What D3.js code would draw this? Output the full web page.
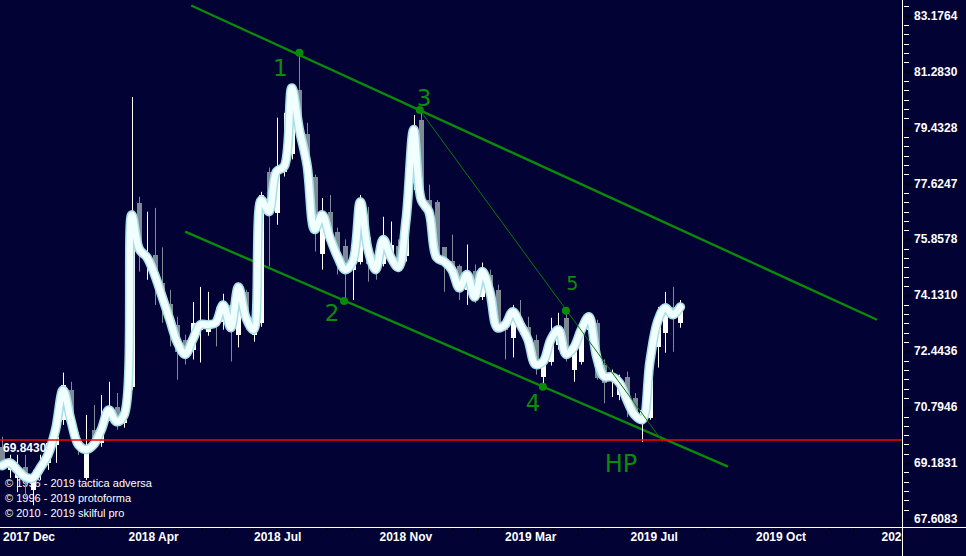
<!DOCTYPE html>
<html><head><meta charset="utf-8">
<script src="https://cdn.jsdelivr.net/npm/d3@7"></script>
<style>html,body{margin:0;padding:0;background:#020235;} svg{display:block}</style>
</head><body>
<svg id="c" width="966" height="556"></svg>
<script>
// ---- data (weekly bars) ----
const openP = [69.65,68.99,68.76,69.08,68.42,68.90,69.19,69.71,70.43,71.30,
69.91,68.76,70.14,69.77,70.51,70.80,70.34,71.39,77.01,75.14,
75.36,74.52,73.87,73.24,72.79,72.49,73.09,73.03,73.39,73.33,
73.84,72.94,74.24,72.94,73.30,78.01,76.70,78.01,78.56,80.68,
79.21,77.85,75.39,76.73,76.10,75.64,74.92,75.17,75.95,75.33,
75.08,75.30,75.64,75.33,77.81,79.69,77.10,77.04,75.61,75.20,
75.02,74.30,74.89,74.08,74.77,74.30,73.33,72.85,73.45,73.18,
72.79,71.69,72.11,72.64,73.45,71.90,72.11,73.09,73.30,72.05,
71.60,71.15,71.69,71.06,70.43,70.48,72.58,73.00,73.78,73.30];
const highP = [69.94,69.42,69.42,69.42,68.99,69.42,69.85,70.23,71.81,71.54,
70.08,70.57,70.86,71.15,71.54,71.21,71.51,80.44,77.20,76.73,
76.85,75.61,74.30,73.48,72.94,73.93,74.39,74.24,73.78,74.18,
73.99,74.52,74.30,73.54,77.36,78.14,79.76,79.92,80.74,81.95,
79.59,77.91,77.16,77.26,76.23,75.86,75.39,77.26,76.88,75.55,
76.57,76.42,75.86,76.63,79.85,80.02,77.59,77.10,75.61,76.01,
75.08,75.70,75.08,75.14,74.92,74.46,73.54,73.84,73.99,73.48,
72.94,72.35,73.45,73.60,73.66,72.64,73.24,73.60,73.39,72.20,
71.90,71.75,71.84,71.21,70.86,72.79,73.78,74.24,74.39,73.99];
const lowP = [68.99,68.76,68.36,68.22,67.99,68.70,68.99,69.19,70.28,70.00,
69.42,68.70,69.71,69.65,70.43,70.14,70.20,71.30,74.86,74.61,
73.84,73.30,72.59,71.60,72.05,72.20,72.11,72.91,72.59,73.09,
72.14,72.56,73.09,72.73,73.18,75.02,76.32,77.85,78.40,79.04,
77.75,75.48,74.92,75.70,74.77,73.99,73.99,75.08,74.55,74.61,
75.02,75.08,74.99,75.17,77.42,76.94,76.54,75.17,74.24,74.61,
73.99,73.84,73.90,73.99,73.99,73.09,72.20,72.26,72.94,72.64,
71.75,71.39,72.02,72.49,72.14,71.54,72.05,72.94,71.60,70.91,
71.09,71.00,70.51,70.43,69.79,70.43,71.96,72.40,72.43,73.15];
const closeP = [69.22,69.22,69.05,68.65,68.76,69.19,69.77,69.94,71.45,70.14,
69.71,69.57,69.77,70.14,70.80,70.28,70.66,76.63,75.45,75.33,
74.52,73.99,73.24,72.41,72.35,73.30,73.33,73.24,73.24,73.84,
73.09,74.39,73.30,73.24,77.26,76.79,78.07,78.23,80.68,79.21,
78.23,76.07,76.70,75.86,75.17,74.92,75.14,77.01,75.08,74.83,
75.95,75.70,75.17,76.48,79.30,77.10,76.73,75.33,75.14,74.77,
74.39,74.86,74.05,74.92,74.14,73.18,73.09,73.69,73.09,72.79,
71.99,72.14,72.94,73.09,72.26,72.49,73.09,73.45,71.66,71.51,
71.69,71.60,71.09,70.51,70.71,72.58,73.30,73.69,73.54,73.90];
const smoothP = [69.11,69.19,68.99,68.79,68.76,69.05,69.42,70.14,71.30,70.43,
69.71,69.57,69.71,70.14,70.71,70.37,70.57,76.63,75.55,75.30,
74.77,74.08,73.39,72.70,72.35,72.79,73.24,73.24,73.30,73.84,
73.15,74.39,73.45,73.09,77.10,76.73,78.01,78.17,80.74,79.37,
78.23,76.17,76.63,75.92,75.33,74.92,75.17,77.04,75.55,74.92,
75.86,75.30,74.99,76.48,79.37,77.10,76.73,75.30,75.17,74.92,
74.36,74.77,74.08,74.86,74.24,73.15,73.24,73.63,73.24,72.79,
72.05,72.14,72.79,73.09,72.35,72.55,73.09,73.48,72.29,71.69,
71.69,71.51,71.00,70.57,70.43,72.14,73.33,73.75,73.54,73.78];

const yTickLabels = ["67.6083","69.1831","70.7946","72.4436","74.1310","75.8578","77.6247","79.4328","81.2830","83.1764"];
const xTickLabels = ["2017 Dec","2018 Apr","2018 Jul","2018 Nov","2019 Mar","2019 Jul","2019 Oct","2020 Jan"];
const refLevel = 69.8430;
const copyrights = ["\u00a9 1996 - 2019 tactica adversa","\u00a9 1996 - 2019 protoforma","\u00a9 2010 - 2019 skilful pro"];

// annotations (bar index, price)
const upperChannel = [[24.8, 83.53],[114.8, 73.39]];
const lowerChannel = [[24.0, 76.10],[95.25, 69.08]];
const thinLine = [[54.8, 80.01],[86.7, 69.79]];
const pivots = [[39.0, 81.92],[44.86, 73.96],[54.8, 80.01],[70.95, 71.39],[73.98, 73.66]];
const handLabels = [["1",36.5,81.42,23],["3",55.35,80.41,23],["5",74.8,74.52,19],["2",43.3,73.60,23],["4",69.66,70.91,23],["HP",81.2,69.16,24]];

// ---- layout ----
const W = 966, H = 556, plotR = 902, plotB = 527;
const svg = d3.select("#c");
svg.append("rect").attr("width", W).attr("height", H).attr("fill", "#020235");

const x = d3.scaleLinear().domain([-0.29, 118.08]).range([0, plotR]);
const y = d3.scaleLog().domain([67.386, 83.72]).range([plotB, 0]);

svg.append("clipPath").attr("id","clip").append("rect").attr("x",0).attr("y",0).attr("width",plotR).attr("height",plotB);
const g = svg.append("g").attr("clip-path","url(#clip)");

// copyright texts (under candles)
g.selectAll("text.copy").data(copyrights).join("text")
  .attr("x", 5).attr("y", (d,i) => 487 + i*15)
  .attr("fill", "#ffffff").attr("font-family", "'Liberation Sans', Arial, sans-serif")
  .attr("font-size", 11).text(d => d);

const bars = d3.range(openP.length).map(i => ({i, o: openP[i], h: highP[i], l: lowP[i], c: closeP[i]}));
const upCol = "#ffffff", dnCol = "#7f8a97";

// channel lines (under the curve)
const line2 = d3.line().x(d => x(d[0])).y(d => y(d[1]));
[upperChannel, lowerChannel].forEach(seg => {
  g.append("path").attr("d", line2(seg)).attr("stroke", "#0a8a0a").attr("stroke-width", 2.4).attr("fill","none");
});

// wicks
g.selectAll("line.wick").data(bars).join("line")
  .attr("x1", d => Math.round(x(d.i)) + 0.5).attr("x2", d => Math.round(x(d.i)) + 0.5)
  .attr("y1", d => y(d.h)).attr("y2", d => y(d.l))
  .attr("stroke", d => d.c >= d.o ? upCol : dnCol).attr("stroke-width", 1);
// bodies
g.selectAll("rect.body").data(bars).join("rect")
  .attr("x", d => Math.round(x(d.i)) - 2).attr("width", 5)
  .attr("y", d => y(Math.max(d.o, d.c)))
  .attr("height", d => Math.max(1, y(Math.min(d.o, d.c)) - y(Math.max(d.o, d.c))))
  .attr("fill", d => d.c >= d.o ? upCol : dnCol)
  .attr("shape-rendering", "crispEdges");

// smooth curve
const sm = smoothP.map((v,i) => [i, v]);
const curve = d3.line().x(d => x(d[0])).y(d => y(d[1])).curve(d3.curveCatmullRom.alpha(0.5));
g.append("path").attr("d", curve(sm)).attr("fill","none").attr("stroke","#a8dfe6").attr("stroke-width",9.5).attr("stroke-linejoin","round").attr("stroke-linecap","round");
g.append("path").attr("d", curve(sm)).attr("fill","none").attr("stroke","#f2ffff").attr("stroke-width",6.5).attr("stroke-linejoin","round").attr("stroke-linecap","round");

// thin line and pivots
g.append("path").attr("d", line2(thinLine)).attr("stroke", "#0a7a0a").attr("stroke-width", 1).attr("fill","none");
g.selectAll("circle.pv").data(pivots).join("circle")
  .attr("cx", d => x(d[0])).attr("cy", d => y(d[1])).attr("r", 4).attr("fill", "#0a8a0a");
g.selectAll("text.hand").data(handLabels).join("text")
  .attr("x", d => x(d[1])).attr("y", d => y(d[2]))
  .attr("text-anchor","middle").attr("dominant-baseline","central")
  .attr("font-family","'DejaVu Sans', sans-serif").attr("font-weight", "normal")
  .attr("font-size", d => d[3]).attr("fill","#0c8c0c").text(d => d[0]);

// reference line
g.append("line").attr("x1",0).attr("x2",plotR).attr("y1", y(refLevel)).attr("y2", y(refLevel))
  .attr("stroke","#ff0000").attr("stroke-width",1.5);
g.append("text").attr("x",3).attr("y", y(refLevel) + 12).attr("fill","#ffffff")
  .attr("font-family","'Liberation Sans', Arial, sans-serif").attr("font-weight","bold").attr("font-size",12)
  .text(refLevel.toFixed(4));

// ---- axes ----
svg.append("line").attr("x1",0).attr("x2",W).attr("y1",plotB+0.5).attr("y2",plotB+0.5).attr("stroke","#ffffff").attr("stroke-width",1);
svg.append("line").attr("x1",plotR+0.5).attr("x2",plotR+0.5).attr("y1",0).attr("y2",H).attr("stroke","#ffffff").attr("stroke-width",1);

// y minor ticks
const yMajors = yTickLabels.map(Number);
const lg0 = Math.log10(yMajors[0]), step = 0.01;
const minors = [];
for (let k = -1; k <= yMajors.length; k++) for (let j = 1; j < 6; j++) minors.push(Math.pow(10, lg0 + (k + j/6) * step));
svg.selectAll("line.ymin").data(minors.filter(v => y(v) > 0 && y(v) < plotB)).join("line")
  .attr("x1", plotR+2).attr("x2", plotR+7).attr("y1", d => Math.round(y(d))+0.5).attr("y2", d => Math.round(y(d))+0.5)
  .attr("stroke","#ffffff").attr("stroke-width",1);
svg.selectAll("line.ymaj").data(yMajors).join("line")
  .attr("x1", plotR+3).attr("x2", plotR+11).attr("y1", d => Math.round(y(d))+0.5).attr("y2", d => Math.round(y(d))+0.5)
  .attr("stroke","#000000").attr("stroke-width",1.5);
svg.selectAll("text.ylab").data(yTickLabels).join("text")
  .attr("x", plotR+12).attr("y", d => y(+d)).attr("dominant-baseline","central")
  .attr("fill","#ffffff").attr("font-family","'Liberation Sans', Arial, sans-serif").attr("font-weight","bold").attr("font-size",12)
  .text(d => d);

// x ticks
const xStart = -0.29, xMinorStep = 3.294, perLabel = 5;
const xt = d3.range(0, 40).map(k => xStart + k * xMinorStep).filter(v => x(v) < plotR);
svg.selectAll("rect.xt").data(xt).join("rect")
  .attr("x", d => Math.round(x(d))).attr("y", plotB+1).attr("width",2).attr("height",2).attr("fill","#000000");
svg.append("clipPath").attr("id","xclip").append("rect").attr("x",0).attr("y",plotB).attr("width",plotR).attr("height",H-plotB);
svg.append("g").attr("clip-path","url(#xclip)").selectAll("text.xlab").data(xTickLabels).join("text")
  .attr("x", (d,i) => x(xStart + i*perLabel*xMinorStep) + 3).attr("y", 541)
  .attr("fill","#ffffff").attr("font-family","'Liberation Sans', Arial, sans-serif").attr("font-weight","bold").attr("font-size",12)
  .text(d => d);
</script>
</body></html>
